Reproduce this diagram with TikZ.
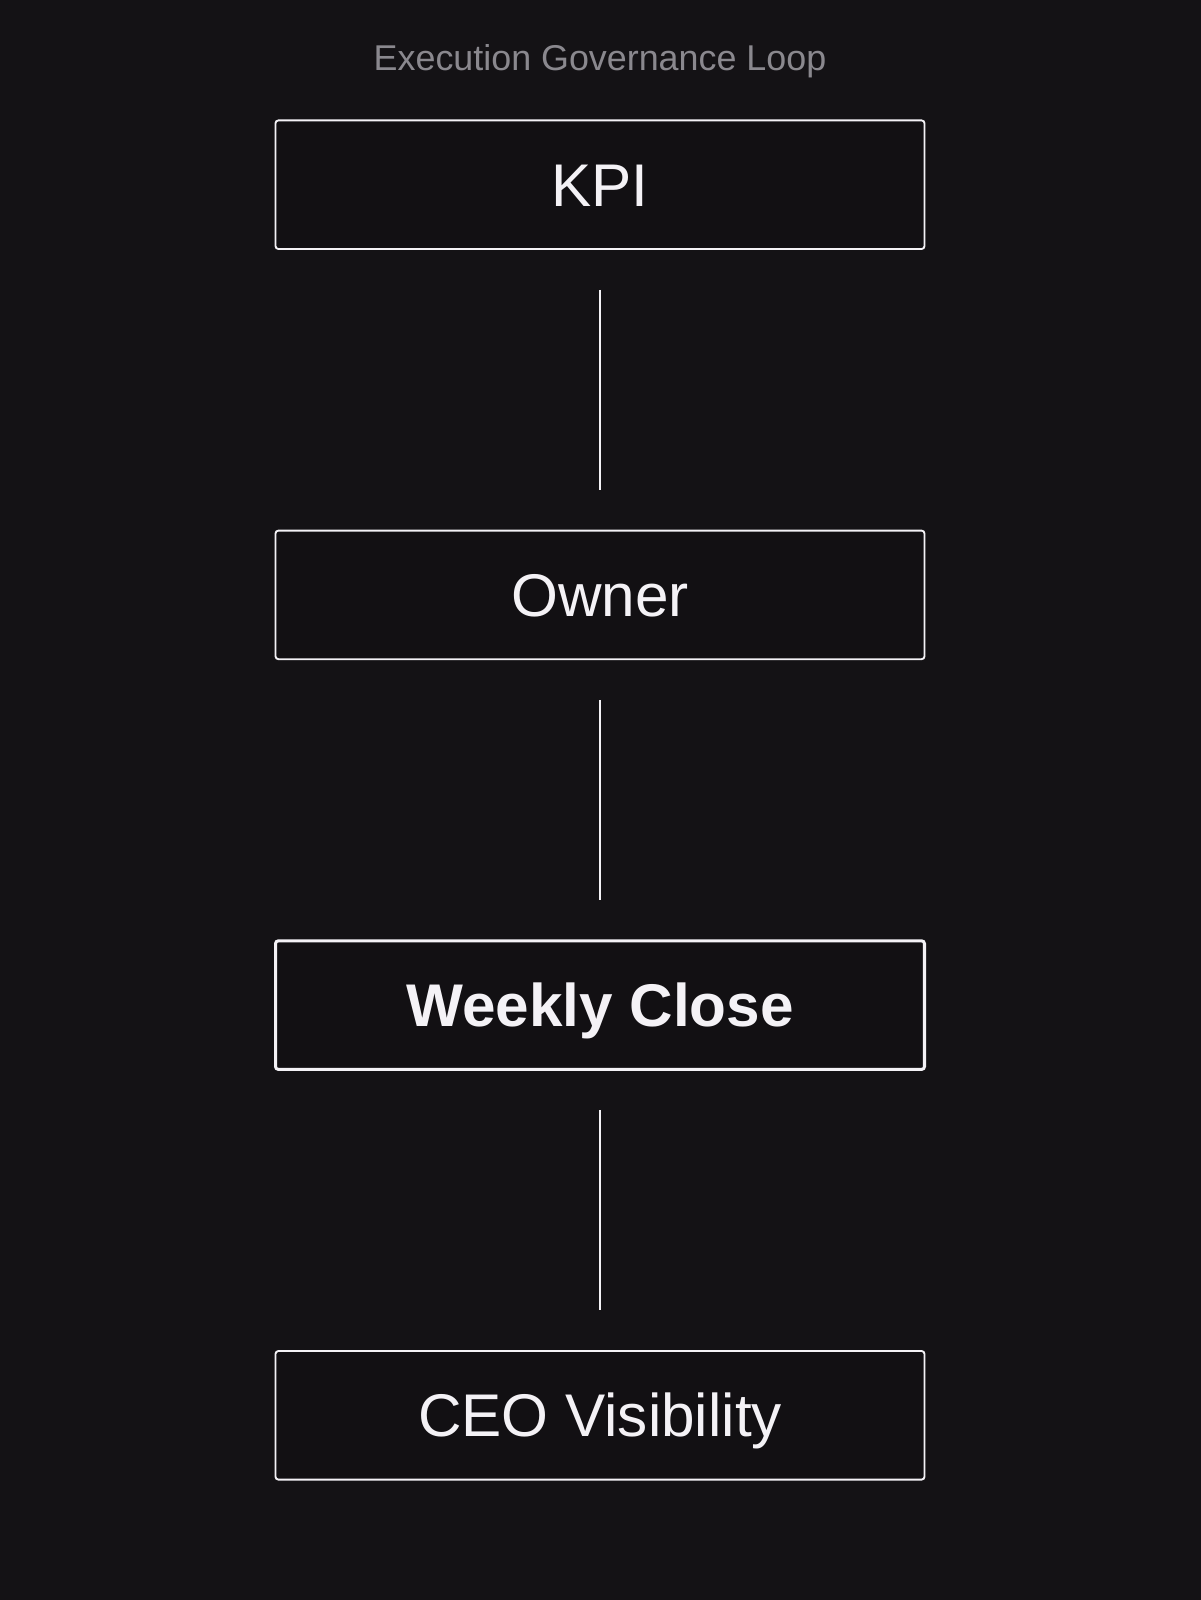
\documentclass[tikz,border=0pt]{standalone}
\usepackage{fontspec}
\setmainfont{Liberation Sans}
\usetikzlibrary{positioning}
\definecolor{bgdark}{RGB}{20,18,21}
\definecolor{boxfill}{RGB}{18,16,19}
\definecolor{strokewhite}{RGB}{244,242,246}
\definecolor{titlegray}{RGB}{138,136,142}
\tikzstyle{stage} = [rectangle, draw=strokewhite, line width=1.3pt, outer sep=0pt, rounded corners=2pt, fill=boxfill, text=strokewhite, minimum width=15.9cm, minimum height=3.15cm, text height=30pt, text depth=0pt, font=\fontsize{42}{48}\selectfont]
\tikzstyle{stagekey} = [stage, line width=2.1pt, font=\fontsize{42}{48}\selectfont\bfseries]
\tikzstyle{heading} = [text=titlegray, font=\fontsize{25}{30}\selectfont]
\tikzstyle{line} = [draw=strokewhite, line width=1.3pt, shorten >=1cm, shorten <=1cm]

\begin{document}
\begin{tikzpicture}[node distance=6.9cm]

\useasboundingbox (0,0) rectangle (29.4,-39.2);
\fill [bgdark] (-1,1) rectangle (30.4,-40.2);

\node [heading] (title) at (14.7,-1.5) {Execution Governance Loop};
\node [stage] (KPI) at (14.7,-4.525) {KPI};
\node [stage, below=of KPI] (Owner) {Owner};
\node [stagekey, below=of Owner] (Close) {Weekly Close};
\node [stage, below=of Close] (CEO) {CEO Visibility};

\path [line] (KPI) -- (Owner);
\path [line] (Owner) -- (Close);
\path [line] (Close) -- (CEO);

\end{tikzpicture}
\end{document}
